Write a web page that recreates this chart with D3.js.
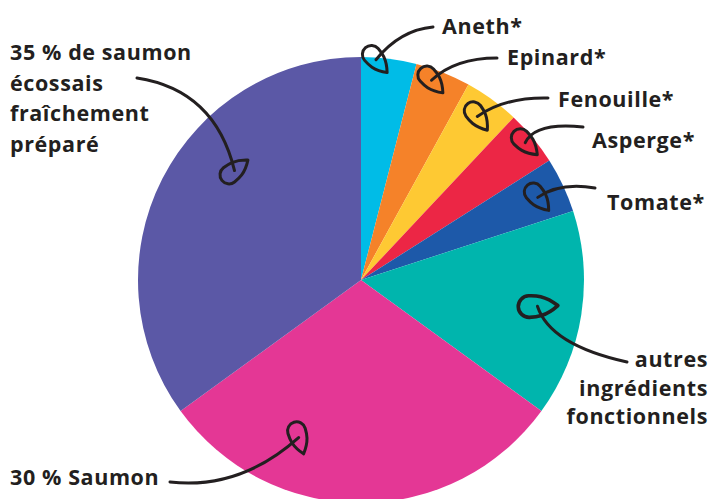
<!DOCTYPE html>
<html>
<head>
<meta charset="utf-8">
<script src="https://cdn.jsdelivr.net/npm/d3@7"></script>
<style>
  body { margin: 0; background: #fff; }
  text { font-family: "Open Sans", sans-serif; font-weight: 700; fill: #231f20; letter-spacing: 0.6px; }
</style>
</head>
<body>
<div class="chart"></div>
<script>
const width = 713
const height = 499

// DATA
const names = ['Aneth*', 'Epinard*', 'Fenouille*', 'Asperge*', 'Tomate*',
  'autres ingrédients fonctionnels', '30 % Saumon', '35 % de saumon écossais fraîchement préparé']
const values = [4, 4, 4, 4, 4, 15, 30, 35]
const colors = ['#00bce7', '#f58229', '#fec933', '#ec2645', '#1d59a9', '#00b5ad', '#e43795', '#5b58a6']

// label layout: text lines, anchor, text position, arrow start, arrow control,
// arrow end (t = position inside slice, rf = share of radius), teardrop angle
const notes = [
  {lines: ['Aneth*'], anchor: 'start', x: 442, y: 34, s: [433, 27], c: [400, 30], t: 0.27, rf: 0.99, rot: 49},
  {lines: ['Epinard*'], anchor: 'start', x: 507, y: 65, s: [497, 58], c: [455, 58], t: 0.35, rf: 0.95, rot: 48},
  {lines: ['Fenouille*'], anchor: 'start', x: 558, y: 107, s: [548, 98], c: [505, 97], t: 0.46, rf: 0.90, rot: 54},
  {lines: ['Asperge*'], anchor: 'start', x: 592, y: 148, s: [583, 127], c: [535, 122], t: 0.48, rf: 0.96, rot: 45},
  {lines: ['Tomate*'], anchor: 'start', x: 607, y: 210, s: [595, 188], c: [560, 182], t: 0.51, rf: 0.875, rot: 50},
  {lines: ['autres', 'ingrédients', 'fonctionnels'], anchor: 'end', x: 708, y: 367, s: [627, 362], c: [550, 345], t: 0.49, rf: 0.80, rot: -2},
  {lines: ['30 % Saumon'], anchor: 'start', x: 10, y: 485, s: [170, 482], c: [240, 490], t: 0.70, rf: 0.76, rot: 73},
  {lines: ['35 % de saumon', 'écossais', 'fraîchement', 'préparé'], anchor: 'start', x: 10, y: 60, s: [137, 78], c: [215, 90], t: 0.61, rf: 0.75, rot: -38}
]

const cx = 361, cy = 280, radius = 223

const svg = d3.select('.chart').append('svg')
    .attr('width', width)
    .attr('height', height)

const g = svg.append('g')
    .attr('transform', `translate(${cx},${cy})`)

const pie = d3.pie().sort(null).value(d => d)
const arcs = pie(values)

const arc = d3.arc().innerRadius(0).outerRadius(radius)

g.selectAll('path.slice')
    .data(arcs)
    .join('path')
    .attr('class', 'slice')
    .attr('d', arc)
    .attr('fill', (d, i) => colors[i])

// teardrop shaped hand drawn arrow head, bulb at 0,0 and tip along +x
const L = 24, r = 9
const drop = `M${L},0 C${L * 0.55},${-r} ${r * 0.6},${-r} 0,${-r} A${r},${r} 0 1 0 0,${r} C${r * 0.6},${r} ${L * 0.55},${r} ${L},0`

const ann = svg.append('g')
    .attr('fill', 'none')
    .attr('stroke', '#231f20')
    .attr('stroke-width', 3)
    .attr('stroke-linecap', 'round')
    .attr('stroke-linejoin', 'round')

notes.forEach((n, i) => {
    const a = arcs[i]
    const ang = a.startAngle + n.t * (a.endAngle - a.startAngle)
    const ex = cx + Math.sin(ang) * radius * n.rf
    const ey = cy - Math.cos(ang) * radius * n.rf

    ann.append('path')
        .attr('d', `M${n.s[0]},${n.s[1]} Q${n.c[0]},${n.c[1]} ${ex},${ey}`)

    const big = i === 5 ? 1.2 : 1
    ann.append('path')
        .attr('d', drop)
        .attr('transform', `translate(${ex},${ey}) rotate(${n.rot}) scale(${big}) translate(-7,0)`)

    const txt = svg.append('text')
        .attr('text-anchor', n.anchor)
        .attr('font-size', 21.5)
    n.lines.forEach((line, j) => {
        txt.append('tspan')
            .attr('x', n.x)
            .attr('y', n.y + j * (n.lines.length === 4 ? 30.5 : 28.5))
            .text(line)
    })
})
</script>
</body>
</html>
